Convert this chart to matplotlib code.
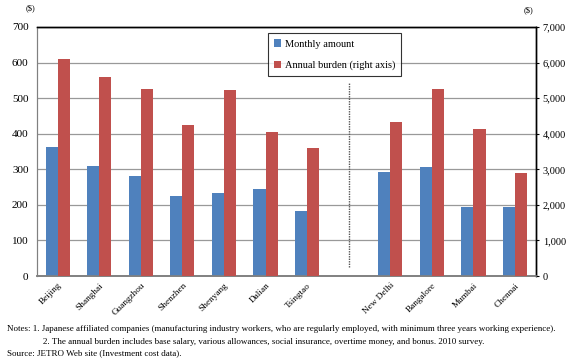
import numpy as np
import matplotlib

matplotlib.use("Agg")
import matplotlib.pyplot as plt

CITIES = ["Beijing", "Shanghai", "Guangzhou", "Shenzhen", "Shenyang", "Dalian",
          "Tsingtao", "", "New Delhi", "Bangalore", "Mumbai", "Chennai"]
MONTHLY = [363, 309, 281, 225, 233, 244, 183, None, 292, 306, 194, 194]
ANNUAL = [6100, 5600, 5250, 4240, 5220, 4040, 3600, None, 4320, 5250, 4140, 2890]
LEFT_TICKS = [0, 100, 200, 300, 400, 500, 600, 700]
RIGHT_TICKS = [0, 1000, 2000, 3000, 4000, 5000, 6000, 7000]

BLUE = "#4F81BD"
RED = "#C0504D"

plt.rcParams["font.family"] = ["Liberation Serif", "DejaVu Serif"]

fig = plt.figure(figsize=(5.67, 3.6), dpi=100)
ax = fig.add_axes([0.065, 0.2333, 0.88, 0.6917])
ax2 = ax.twinx()

x = np.arange(len(CITIES))
w = 0.29
mx = [i for i, v in enumerate(MONTHLY) if v is not None]
ax.bar([i - w / 2 for i in mx], [MONTHLY[i] for i in mx], width=w, color=BLUE,
       label="Monthly amount", zorder=3)
ax2.bar([i + w / 2 for i in mx], [ANNUAL[i] for i in mx], width=w, color=RED,
        label="Annual burden (right axis)", zorder=3)

ax.set_xlim(-0.5, len(CITIES) - 0.5)
ax.set_ylim(0, 700)
ax2.set_ylim(0, 7000)
ax.set_yticks(LEFT_TICKS)
ax2.set_yticks(RIGHT_TICKS)
ax2.set_yticklabels([f"{v:,}" for v in RIGHT_TICKS])
ax.yaxis.grid(True, color="#999999", linewidth=0.9, zorder=0)
ax.set_axisbelow(True)

ax.set_xticks(x)
ax.set_xticklabels(CITIES, rotation=45, ha="right", rotation_mode="anchor", fontsize=6.7)
ax.tick_params(axis="x", length=0, pad=4)
ax.tick_params(axis="y", labelsize=8, length=0, pad=6)
ax2.tick_params(axis="y", labelsize=7.5, length=2, pad=3)

for a in (ax, ax2):
    for s in ("top", "right"):
        a.spines[s].set_color("black")
        a.spines[s].set_linewidth(1.0)
    a.spines["left"].set_color("#808080")
    a.spines["bottom"].set_color("#808080")
    a.spines["bottom"].set_linewidth(1.2)

ax.plot([7, 7], [25, 542], color="#555555", linestyle=(0, (1, 0.8)), linewidth=1.0, zorder=4)

h1, l1 = ax.get_legend_handles_labels()
h2, l2 = ax2.get_legend_handles_labels()
leg = ax2.legend(h1 + h2, l1 + l2, loc="upper left", bbox_to_anchor=(0.463, 0.976),
                 fontsize=7.5, frameon=True, fancybox=False, edgecolor="black",
                 handlelength=0.7, handleheight=0.7, handletextpad=0.3,
                 borderpad=0.6, labelspacing=1.15, borderaxespad=0)
leg.get_frame().set_linewidth(0.8)

fig.text(30 / 567, 1 - 8 / 360, "($)", fontsize=6, ha="center", va="center")
fig.text(528 / 567, 1 - 10 / 360, "($)", fontsize=6, ha="center", va="center")

fig.text(7 / 567, 1 - 329 / 360,
         "Notes: 1. Japanese affiliated companies (manufacturing industry workers, who are regularly "
         "employed, with minimum three years working experience).",
         fontsize=6.5, va="center")
fig.text(43 / 567, 1 - 342 / 360,
         "2. The annual burden includes base salary, various allowances, social insurance, "
         "overtime money, and bonus. 2010 survey.",
         fontsize=6.5, va="center")
fig.text(7 / 567, 1 - 353 / 360, "Source: JETRO Web site (Investment cost data).",
         fontsize=6.5, va="center")

fig.savefig("out.png", dpi=100)
